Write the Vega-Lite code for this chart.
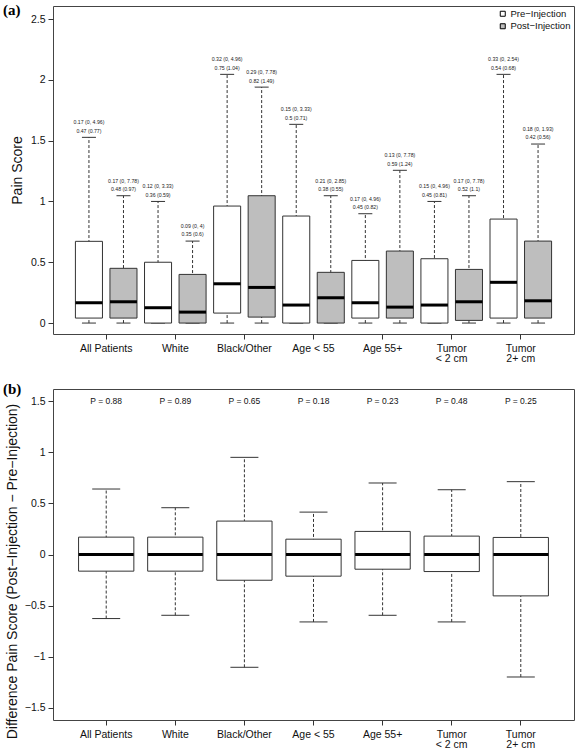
{
  "$schema": "https://vega.github.io/schema/vega-lite/v6.json",
  "padding": {"left": 2, "top": 2, "right": 3, "bottom": 0},
  "background": "white",
  "spacing": 16,
  "config": {
    "font": "Liberation Sans",
    "view": {"stroke": "#444", "strokeWidth": 1},
    "axis": {"grid": false, "domain": false, "tickColor": "#333", "tickSize": 5, "labelColor": "#111", "titleColor": "#111", "labelFont": "Liberation Sans", "titleFont": "Liberation Sans", "titleFontWeight": "normal", "labelFontSize": 10.5, "titleFontSize": 14}
  },
  "resolve": {"scale": {"fill": "independent"}, "legend": {"fill": "independent"}},
  "datasets": {
    "prepost": [
      {"group": "All Patients", "phase": "Pre−Injection", "lo": 0, "q1": 0.041, "med": 0.167, "q3": 0.672, "hi": 1.527, "s1": "0.17 (0, 4.96)", "s2": "0.47 (0.77)"},
      {"group": "All Patients", "phase": "Post−Injection", "lo": 0, "q1": 0.041, "med": 0.175, "q3": 0.45, "hi": 1.047, "s1": "0.17 (0, 7.78)", "s2": "0.48 (0.97)"},
      {"group": "White", "phase": "Pre−Injection", "lo": 0, "q1": 0, "med": 0.126, "q3": 0.5, "hi": 1.0, "s1": "0.12 (0, 3.33)", "s2": "0.36 (0.59)"},
      {"group": "White", "phase": "Post−Injection", "lo": 0, "q1": 0, "med": 0.09, "q3": 0.4, "hi": 0.674, "s1": "0.09 (0, 4)", "s2": "0.35 (0.6)"},
      {"group": "Black/Other", "phase": "Pre−Injection", "lo": 0, "q1": 0.082, "med": 0.323, "q3": 0.962, "hi": 2.045, "s1": "0.32 (0, 4.96)", "s2": "0.75 (1.04)"},
      {"group": "Black/Other", "phase": "Post−Injection", "lo": 0, "q1": 0.049, "med": 0.293, "q3": 1.047, "hi": 1.94, "s1": "0.29 (0, 7.78)", "s2": "0.82 (1.49)"},
      {"group": "Age < 55", "phase": "Pre−Injection", "lo": 0, "q1": 0, "med": 0.148, "q3": 0.88, "hi": 1.634, "s1": "0.15 (0, 3.33)", "s2": "0.5 (0.71)"},
      {"group": "Age < 55", "phase": "Post−Injection", "lo": 0, "q1": 0, "med": 0.208, "q3": 0.417, "hi": 1.047, "s1": "0.21 (0, 2.85)", "s2": "0.38 (0.55)"},
      {"group": "Age 55+", "phase": "Pre−Injection", "lo": 0, "q1": 0.041, "med": 0.167, "q3": 0.515, "hi": 0.899, "s1": "0.17 (0, 4.96)", "s2": "0.45 (0.82)"},
      {"group": "Age 55+", "phase": "Post−Injection", "lo": 0, "q1": 0.041, "med": 0.131, "q3": 0.592, "hi": 1.256, "s1": "0.13 (0, 7.78)", "s2": "0.59 (1.24)"},
      {"group": "Tumor\n< 2 cm", "phase": "Pre−Injection", "lo": 0, "q1": 0, "med": 0.148, "q3": 0.529, "hi": 1.0, "s1": "0.15 (0, 4.96)", "s2": "0.45 (0.81)"},
      {"group": "Tumor\n< 2 cm", "phase": "Post−Injection", "lo": 0, "q1": 0.022, "med": 0.175, "q3": 0.441, "hi": 1.047, "s1": "0.17 (0, 7.78)", "s2": "0.52 (1.1)"},
      {"group": "Tumor\n2+ cm", "phase": "Pre−Injection", "lo": 0, "q1": 0.041, "med": 0.335, "q3": 0.855, "hi": 2.045, "s1": "0.33 (0, 2.54)", "s2": "0.54 (0.68)"},
      {"group": "Tumor\n2+ cm", "phase": "Post−Injection", "lo": 0, "q1": 0.041, "med": 0.183, "q3": 0.674, "hi": 1.472, "s1": "0.18 (0, 1.93)", "s2": "0.42 (0.56)"}
    ],
    "diff": [
      {"group": "All Patients", "lo": -0.627, "q1": -0.163, "med": 0, "q3": 0.17, "hi": 0.641, "p": "P = 0.88"},
      {"group": "White", "lo": -0.595, "q1": -0.163, "med": 0, "q3": 0.17, "hi": 0.458, "p": "P = 0.89"},
      {"group": "Black/Other", "lo": -1.104, "q1": -0.252, "med": 0, "q3": 0.327, "hi": 0.951, "p": "P = 0.65"},
      {"group": "Age < 55", "lo": -0.66, "q1": -0.212, "med": 0, "q3": 0.15, "hi": 0.415, "p": "P = 0.18"},
      {"group": "Age 55+", "lo": -0.595, "q1": -0.144, "med": 0, "q3": 0.226, "hi": 0.7, "p": "P = 0.23"},
      {"group": "Tumor\n< 2 cm", "lo": -0.66, "q1": -0.167, "med": 0, "q3": 0.18, "hi": 0.634, "p": "P = 0.48"},
      {"group": "Tumor\n2+ cm", "lo": -1.199, "q1": -0.405, "med": 0, "q3": 0.167, "hi": 0.713, "p": "P = 0.25"}
    ]
  },
  "vconcat": [
    {
      "width": 521,
      "height": 328,
      "data": {"name": "prepost"},
      "title": {"text": "(a)", "anchor": "start", "frame": "group", "orient": "top", "baseline": "top", "offset": 0, "dx": -50, "dy": 12, "font": "Liberation Serif", "fontSize": 15, "fontWeight": "bold", "color": "#000"},
      "encoding": {
        "x": {"field": "group", "type": "nominal",
          "scale": {"domain": ["All Patients", "White", "Black/Other", "Age < 55", "Age 55+", "Tumor\n< 2 cm", "Tumor\n2+ cm"], "paddingInner": 0, "paddingOuter": 0.27},
          "axis": {"title": null, "labelAngle": 0, "labelExpr": "split(datum.label, '\\n')", "labelPadding": 4, "labelFontSize": 10.5, "labelLineHeight": 10.5, "labelBaseline": "top"}},
        "xOffset": {"field": "phase", "type": "nominal", "scale": {"domain": ["Pre−Injection", "Post−Injection"], "paddingInner": 0.217, "paddingOuter": 0.109}}
      },
      "layer": [
        {"mark": {"type": "rule", "strokeDash": [3, 2], "color": "#333", "strokeWidth": 1},
         "encoding": {
           "y": {"field": "lo", "type": "quantitative", "scale": {"domain": [-0.09, 2.607], "nice": false, "zero": false},
             "axis": {"title": "Pain Score", "values": [0, 0.5, 1, 1.5, 2, 2.5], "format": "~g", "labelPadding": 3, "titlePadding": 6}},
           "y2": {"field": "hi"}}},
        {"mark": {"type": "tick", "size": 14, "thickness": 1, "color": "#333", "opacity": 1},
         "encoding": {"y": {"field": "lo", "type": "quantitative"}}},
        {"mark": {"type": "tick", "size": 14, "thickness": 1, "color": "#333", "opacity": 1},
         "encoding": {"y": {"field": "hi", "type": "quantitative"}}},
        {"mark": {"type": "bar", "stroke": "#333", "strokeWidth": 1, "opacity": 1},
         "encoding": {
           "y": {"field": "q1", "type": "quantitative"},
           "y2": {"field": "q3"},
           "fill": {"field": "phase", "type": "nominal",
             "scale": {"domain": ["Pre−Injection", "Post−Injection"], "range": ["#ffffff", "#bebebe"]},
             "legend": {"title": null, "orient": "top-right", "offset": 3, "padding": 0, "symbolType": "square", "symbolSize": 25, "symbolStrokeColor": "#000", "symbolStrokeWidth": 1, "symbolOpacity": 1, "labelFontSize": 9.5, "labelOffset": 3, "rowPadding": 1.5, "labelColor": "#111"}}}},
        {"mark": {"type": "tick", "size": 27, "thickness": 3, "color": "#000", "opacity": 1},
         "encoding": {"y": {"field": "med", "type": "quantitative"}}},
        {"mark": {"type": "text", "dy": -15, "fontSize": 5.2, "color": "#222"},
         "encoding": {"y": {"field": "hi", "type": "quantitative"}, "text": {"field": "s1"}}},
        {"mark": {"type": "text", "dy": -6.6, "fontSize": 5.2, "color": "#222"},
         "encoding": {"y": {"field": "hi", "type": "quantitative"}, "text": {"field": "s2"}}}
      ]
    },
    {
      "width": 521,
      "height": 331,
      "data": {"name": "diff"},
      "title": {"text": "(b)", "anchor": "start", "frame": "group", "orient": "top", "baseline": "top", "offset": 0, "dx": -50, "dy": 8, "font": "Liberation Serif", "fontSize": 15, "fontWeight": "bold", "color": "#000"},
      "encoding": {
        "x": {"field": "group", "type": "nominal",
          "scale": {"domain": ["All Patients", "White", "Black/Other", "Age < 55", "Age 55+", "Tumor\n< 2 cm", "Tumor\n2+ cm"], "paddingInner": 0, "paddingOuter": 0.27},
          "axis": {"title": null, "labelAngle": 0, "labelExpr": "split(datum.label, '\\n')", "labelPadding": 4, "labelFontSize": 10.5, "labelLineHeight": 10.5, "labelBaseline": "top"}}
      },
      "layer": [
        {"mark": {"type": "rule", "strokeDash": [3, 2], "color": "#333", "strokeWidth": 1},
         "encoding": {
           "y": {"field": "lo", "type": "quantitative", "scale": {"domain": [-1.62, 1.62], "nice": false, "zero": false},
             "axis": {"title": "Difference Pain Score (Post−Injection − Pre−Injection)", "values": [-1.5, -1, -0.5, 0, 0.5, 1, 1.5], "format": "~g", "labelPadding": 3, "titlePadding": 5, "titleY": 182}},
           "y2": {"field": "hi"}}},
        {"mark": {"type": "tick", "size": 28, "thickness": 1, "color": "#333", "opacity": 1},
         "encoding": {"y": {"field": "lo", "type": "quantitative"}}},
        {"mark": {"type": "tick", "size": 28, "thickness": 1, "color": "#333", "opacity": 1},
         "encoding": {"y": {"field": "hi", "type": "quantitative"}}},
        {"mark": {"type": "bar", "width": {"band": 0.8}, "fill": "#ffffff", "stroke": "#333", "strokeWidth": 1, "opacity": 1},
         "encoding": {"y": {"field": "q1", "type": "quantitative"}, "y2": {"field": "q3"}}},
        {"mark": {"type": "tick", "size": 55, "thickness": 3, "color": "#000", "opacity": 1},
         "encoding": {"y": {"field": "med", "type": "quantitative"}}},
        {"mark": {"type": "text", "fontSize": 8.5, "color": "#111"},
         "encoding": {"y": {"datum": 1.5, "type": "quantitative"}, "text": {"field": "p"}}}
      ]
    }
  ]
}
